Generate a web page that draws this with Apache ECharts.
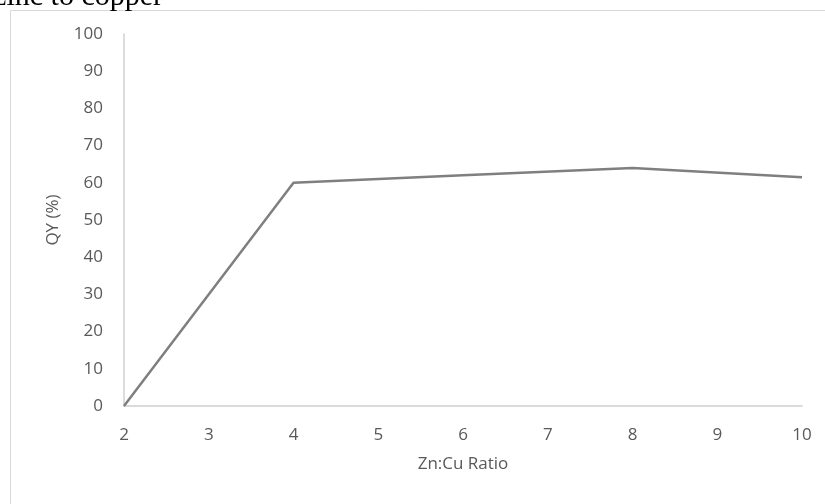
<!DOCTYPE html>
<html>
<head>
<meta charset="utf-8">
<script src="https://cdn.jsdelivr.net/npm/echarts@6/dist/echarts.min.js"></script>
<style>
html,body{margin:0;padding:0;background:#fff;}
#chart{width:825px;height:504px;}
</style>
</head>
<body>
<div id="chart"></div>
<script>
const ratios = [2, 4, 6, 8, 10];
const qyValues = [0, 60, 62, 64, 61.5];
const yTicks = [0, 10, 20, 30, 40, 50, 60, 70, 80, 90, 100];
const xTicks = [2, 3, 4, 5, 6, 7, 8, 9, 10];
const xTitle = 'Zn:Cu Ratio';
const yTitle = 'QY (%)';
const topText = 'zinc to copper';

const chart = echarts.init(document.getElementById('chart'), null, {renderer: 'canvas'});
const labelFont = {color: '#595959', fontSize: 17, fontFamily: 'Open Sans'};
chart.setOption({
  animation: false,
  backgroundColor: '#fff',
  graphic: [
    {type: 'rect', shape: {x: 10.5, y: 10.5, width: 900, height: 600},
     style: {fill: 'none', stroke: '#d9d9d9', lineWidth: 1}, silent: true},
    {type: 'text', x: 163, y: 12,
     style: {text: topText, fill: '#000', fontSize: 30, fontFamily: 'Liberation Serif', align: 'right', verticalAlign: 'bottom'}}
  ],
  grid: {left: 124, right: 23, top: 34, bottom: 98},
  xAxis: {
    type: 'value', min: xTicks[0], max: xTicks[xTicks.length - 1], interval: 1,
    name: xTitle, nameLocation: 'middle', nameGap: 50,
    nameTextStyle: labelFont,
    axisLine: {show: true, lineStyle: {color: '#d0d0d0', width: 1.5}},
    axisTick: {show: false},
    splitLine: {show: false},
    axisLabel: Object.assign({margin: 21}, labelFont)
  },
  yAxis: {
    type: 'value', min: yTicks[0], max: yTicks[yTicks.length - 1], interval: 10,
    name: yTitle, nameLocation: 'middle', nameGap: 62, nameRotate: 90,
    nameTextStyle: labelFont,
    axisLine: {show: true, lineStyle: {color: '#d0d0d0', width: 1.5}},
    axisTick: {show: false},
    splitLine: {show: false},
    axisLabel: Object.assign({margin: 21}, labelFont)
  },
  series: [{
    type: 'line',
    data: ratios.map((r, i) => [r, qyValues[i]]),
    showSymbol: false,
    symbol: 'none',
    lineStyle: {color: '#7f7f7f', width: 2.5},
    itemStyle: {color: '#7f7f7f'}
  }]
});
</script>
</body>
</html>
